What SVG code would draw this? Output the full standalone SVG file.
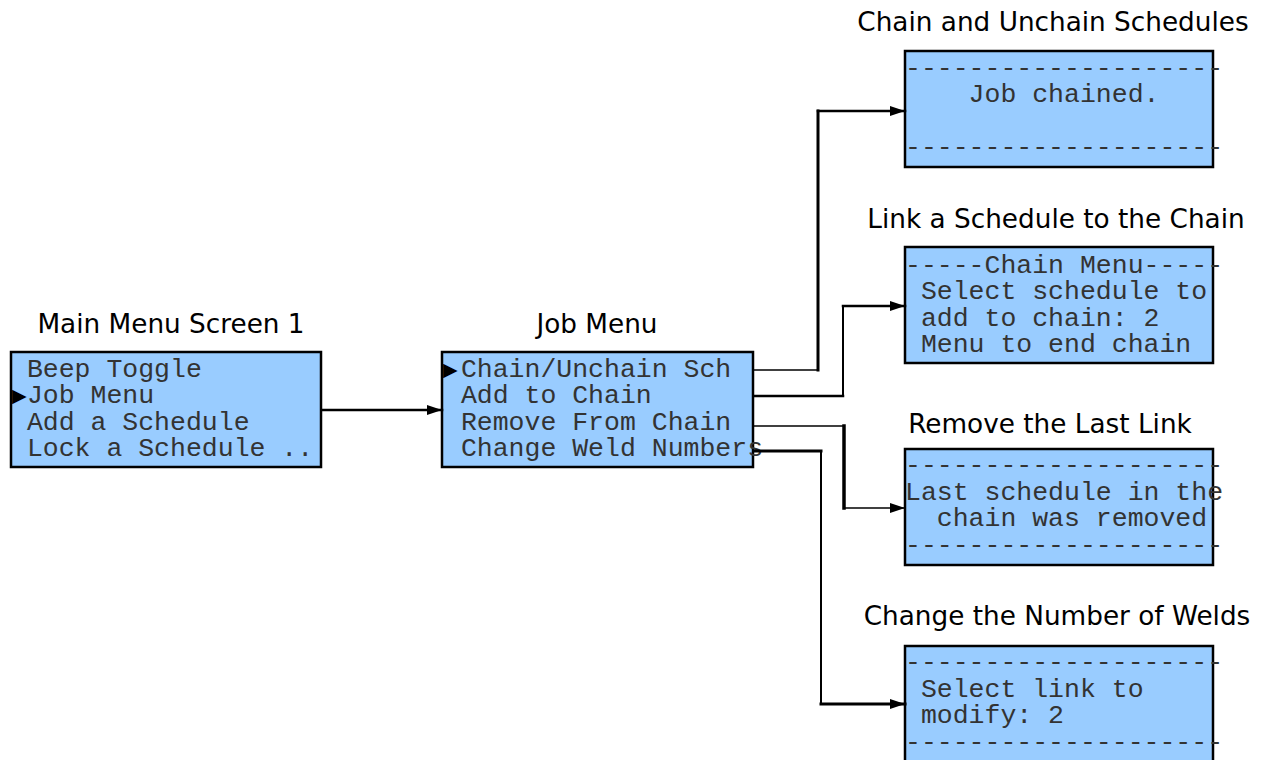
<svg xmlns="http://www.w3.org/2000/svg" width="1267" height="760" viewBox="0 0 1267 760">
<style>
.box{fill:#99ccff;stroke:#000;stroke-width:2.5}
.title{font-family:"DejaVu Sans",Verdana,sans-serif;font-size:26.3px;fill:#000;text-anchor:middle}
.mono{font-family:"Liberation Mono","Courier New",monospace;font-size:26.5px;fill:#333;white-space:pre}
.ptr{font-family:"DejaVu Sans",sans-serif;font-size:19px;fill:#000}
.c{fill:none;stroke:#000;stroke-linecap:square}
</style>
<defs>
<marker id="ah" markerUnits="userSpaceOnUse" markerWidth="16" markerHeight="12" refX="15" refY="6" orient="auto">
<path d="M0,1 L15,6 L0,11 Z" fill="#000"/>
</marker>
</defs>
<g id="main-menu">
<text class="title" x="171" y="333">Main Menu Screen 1</text>
<rect class="box" x="11" y="352" width="310" height="115"/>
<text class="mono" x="11" y="376.5" xml:space="preserve"> Beep Toggle</text>
<text class="mono" x="11" y="403" xml:space="preserve"><tspan class="ptr" x="12" dy="-1">▶</tspan><tspan x="26.9" dy="1">Job Menu</tspan></text>
<text class="mono" x="11" y="429.7" xml:space="preserve"> Add a Schedule</text>
<text class="mono" x="11" y="456.4" xml:space="preserve"> Lock a Schedule ..</text>
</g>
<g id="job-menu">
<text class="title" x="597" y="333">Job Menu</text>
<rect class="box" x="442" y="352" width="311" height="115"/>
<text class="mono" x="445" y="376.5" xml:space="preserve"><tspan class="ptr" x="443" dy="-1">▶</tspan><tspan x="460.9" dy="1">Chain/Unchain Sch</tspan></text>
<text class="mono" x="445" y="403" xml:space="preserve"> Add to Chain</text>
<text class="mono" x="445" y="429.7" xml:space="preserve"> Remove From Chain</text>
<text class="mono" x="445" y="456.4" xml:space="preserve"> Change Weld Numbers</text>
</g>
<g id="chain-unchain">
<text class="title" x="1053" y="31">Chain and Unchain Schedules</text>
<rect class="box" x="905" y="51" width="308" height="116"/>
<text class="mono" x="905" y="75.5" xml:space="preserve">--------------------</text>
<text class="mono" x="905" y="102" xml:space="preserve">    Job chained.</text>
<text class="mono" x="905" y="155.4" xml:space="preserve">--------------------</text>
</g>
<g id="link-schedule">
<text class="title" x="1056" y="228">Link a Schedule to the Chain</text>
<rect class="box" x="905" y="247" width="308" height="116"/>
<text class="mono" x="905" y="272.5" xml:space="preserve">-----Chain Menu-----</text>
<text class="mono" x="905" y="299" xml:space="preserve"> Select schedule to</text>
<text class="mono" x="905" y="325.7" xml:space="preserve"> add to chain: 2</text>
<text class="mono" x="905" y="352.4" xml:space="preserve"> Menu to end chain</text>
</g>
<g id="remove-link">
<text class="title" x="1050" y="433">Remove the Last Link</text>
<rect class="box" x="905" y="449" width="308" height="116"/>
<text class="mono" x="905" y="473" xml:space="preserve">--------------------</text>
<text class="mono" x="905" y="499.7" xml:space="preserve">Last schedule in the</text>
<text class="mono" x="905" y="526.4" xml:space="preserve">  chain was removed</text>
<text class="mono" x="905" y="553.1" xml:space="preserve">--------------------</text>
</g>
<g id="change-welds">
<text class="title" x="1057" y="625">Change the Number of Welds</text>
<rect class="box" x="905" y="646" width="308" height="116"/>
<text class="mono" x="905" y="670" xml:space="preserve">--------------------</text>
<text class="mono" x="905" y="696.7" xml:space="preserve"> Select link to</text>
<text class="mono" x="905" y="723.4" xml:space="preserve"> modify: 2</text>
<text class="mono" x="905" y="750.1" xml:space="preserve">--------------------</text>
</g>
<g id="connectors">
<line class="c" x1="322" y1="410" x2="442" y2="410" stroke-width="2.5" marker-end="url(#ah)"/>
<line class="c" x1="754" y1="370" x2="818" y2="370" stroke-width="1.5"/>
<line class="c" x1="818" y1="370" x2="818" y2="111" stroke-width="3"/>
<line class="c" x1="818" y1="111" x2="905" y2="111" stroke-width="2.5" marker-end="url(#ah)"/>
<line class="c" x1="754" y1="396" x2="843" y2="396" stroke-width="2.5"/>
<line class="c" x1="843" y1="396" x2="843" y2="306" stroke-width="2"/>
<line class="c" x1="843" y1="306" x2="905" y2="306" stroke-width="2.5" marker-end="url(#ah)"/>
<line class="c" x1="754" y1="426" x2="844" y2="426" stroke-width="1.5"/>
<line class="c" x1="844" y1="426" x2="844" y2="508" stroke-width="3.5"/>
<line class="c" x1="844" y1="508" x2="905" y2="508" stroke-width="1.5" marker-end="url(#ah)"/>
<line class="c" x1="754" y1="451" x2="821" y2="451" stroke-width="3"/>
<line class="c" x1="821" y1="451" x2="821" y2="704" stroke-width="2"/>
<line class="c" x1="821" y1="704" x2="905" y2="704" stroke-width="3" marker-end="url(#ah)"/>
</g>
</svg>
